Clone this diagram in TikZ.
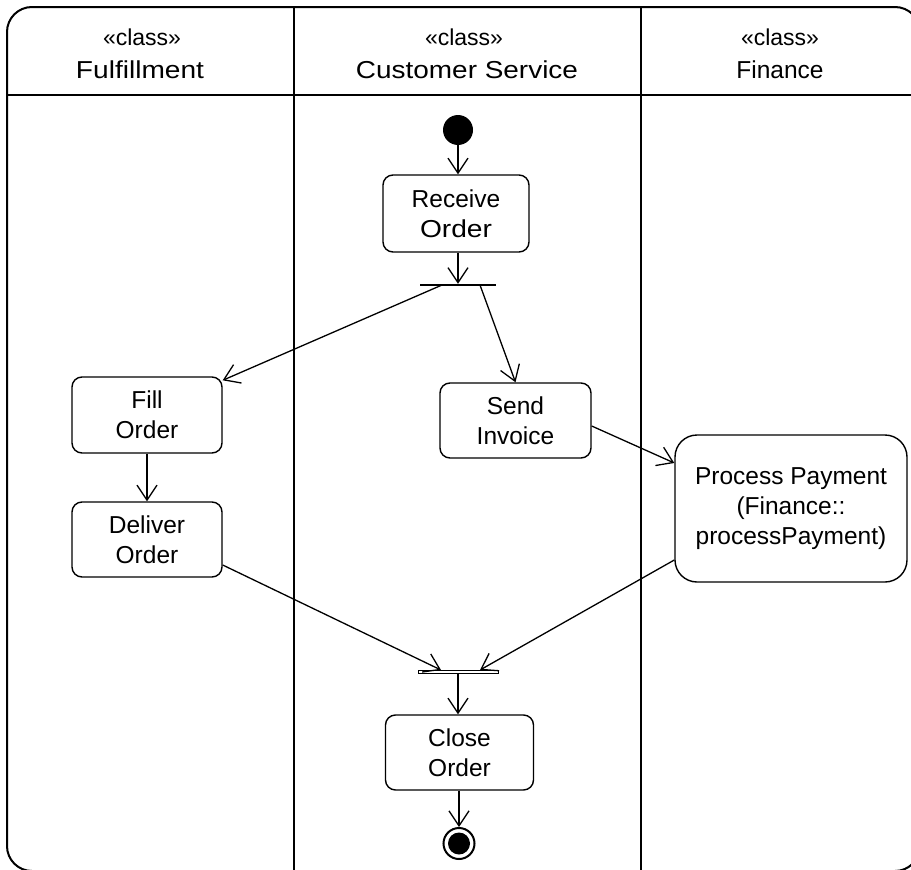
\documentclass[tikz,border=0pt]{standalone}
\usepackage{graphicx}
\usepackage{fontspec}
\setmainfont{Liberation Sans}
\usetikzlibrary{arrows.meta}
% stretch a text horizontally to a given width, keeping its height
\newcommand{\hstretch}[2]{\resizebox{#1}{\height}{#2}}
\begin{document}
\begin{tikzpicture}[x=1pt,y=-1pt,
  frame/.style={line width=2pt},
  lanesep/.style={line width=2pt},
  headsep/.style={line width=1.5pt},
  headtxt/.style={anchor=base, inner sep=0pt, font=\fontsize{23pt}{28pt}\selectfont},
  lanename/.style={anchor=base, inner sep=0pt, font=\fontsize{24.5pt}{30pt}\selectfont},
  act/.style={draw, line width=1.4pt, rounded corners=10pt, align=center,
    inner sep=0pt, font=\fontsize{24.5pt}{30pt}\selectfont},
  bigact/.style={act, rounded corners=22pt},
  forkbar/.style={fill, inner sep=0pt, minimum height=2pt},
  joinbar/.style={draw, line width=1pt, inner sep=0pt, minimum height=3pt},
  startnode/.style={circle, fill, inner sep=0pt, minimum size=30pt},
  arr/.style={line width=1.3pt, -{Straight Barb[length=15pt,width=20pt,line width=1.3pt]}}
]
\useasboundingbox (0,0) rectangle (911,870);
\clip (0,0) rectangle (911,870);

% swimlane frame, lane separators and header rule
\draw[frame, rounded corners=25pt] (7,7) rectangle (920,871);
\draw[lanesep] (294,7) -- (294,871);
\draw[lanesep] (641,7) -- (641,871);
\draw[headsep] (7,95) -- (920,95);

% lane headers
\node[headtxt] (st1) at (142,45.5) {«class»};
\node[lanename] (ln1) at (140,78) {\hstretch{128pt}{Fulfillment}};
\node[headtxt] (st2) at (464,45.5) {«class»};
\node[lanename] (ln2) at (467,78) {\hstretch{222pt}{Customer Service}};
\node[headtxt] (st3) at (780,45.5) {«class»};
\node[lanename] (ln3) at (780,78) {Finance};

% activity nodes
\node[startnode] (init) at (458,130) {};
\node[act, minimum width=146pt, minimum height=77pt] (recv) at (456,213.5)
  {Receive\\\hstretch{72pt}{Order}};
\node[forkbar, minimum width=76pt] (fork) at (458,285) {};
\node[act, minimum width=150pt, minimum height=76pt] (fill) at (147,415) {Fill\\Order};
\node[act, minimum width=150pt, minimum height=75pt] (deliver) at (147,539.5) {Deliver\\Order};
\node[act, minimum width=151pt, minimum height=75pt] (send) at (515.5,420.5) {Send\\Invoice};
\node[bigact, minimum width=232pt, minimum height=147pt] (pay) at (791,508.5)
  {Process Payment\\(Finance::\\processPayment)};
\node[joinbar, minimum width=80pt] (join) at (458,672) {};
\node[act, minimum width=148pt, minimum height=75pt] (close) at (459.5,752.5) {Close\\Order};
\node[circle, draw, line width=2pt, inner sep=0pt, minimum size=31pt] (fin) at (459,843.5) {};
\node[circle, fill, inner sep=0pt, minimum size=22pt] (fincore) at (fin) {};

% control flows
\draw[arr] (init.south) -- (init.south |- recv.north);
\draw[arr] (recv.south -| fork.north) -- (fork.north);
\draw[arr] ([xshift=-16pt]fork.center) -- ([yshift=-4pt]fill.north east);
\draw[arr] ([xshift=22pt]fork.center) -- (send.north);
\draw[arr] (fill.south) -- (deliver.north);
\draw[arr] ([yshift=-5.5pt]send.east) -- ([yshift=45.5pt]pay.west);
\draw[arr] ([yshift=-25.5pt]deliver.east) -- ([xshift=-17pt]join.north);
\draw[arr] ([yshift=-51.5pt]pay.west) -- ([xshift=22pt]join.north);
\draw[arr] (join.south) -- (join.south |- close.north);
\draw[arr] (close.south -| fin.north) -- (fin.north);
\end{tikzpicture}
\end{document}
